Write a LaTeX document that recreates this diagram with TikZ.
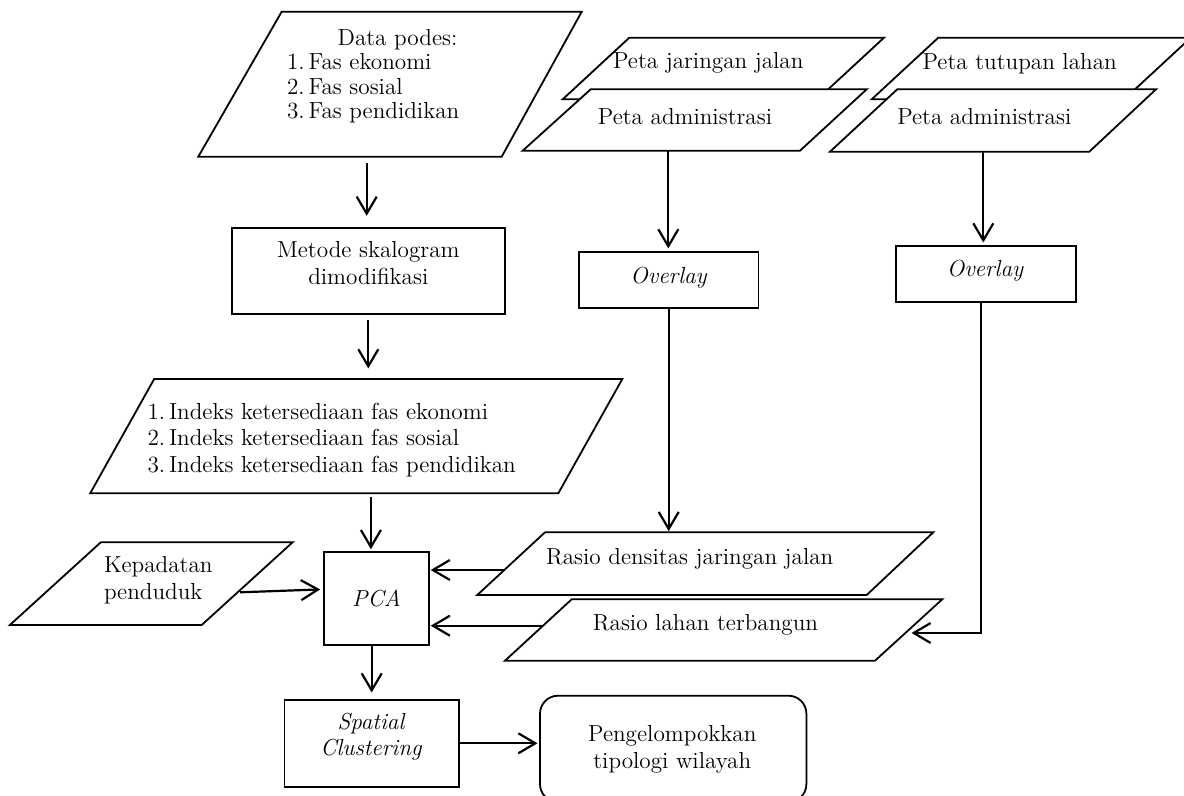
\documentclass[tikz,border=0pt]{standalone}
\usetikzlibrary{arrows.meta}
\begin{document}
\begin{tikzpicture}[x=0.5pt,y=-0.5pt,
  font=\fontsize{11.6}{13.3}\selectfont,
  shp/.style={draw, line width=0.9pt, fill=white, line join=miter},
  box/.style={draw, line width=0.9pt, inner sep=0pt, fill=white},
  txt/.style={inner sep=0pt, align=center},
  ltxt/.style={inner sep=0pt, align=left, anchor=west},
  conn/.style={line width=1.1pt, -{Straight Barb[length=8.5pt,width=10pt,line width=1.1pt]}}
]
\useasboundingbox (0,0) rectangle (1184,796);

% ---------- parallelograms (data) ----------
\draw[shp] (281.7,11.7) -- (581.7,11.7) -- (501.7,156.7) -- (198.3,156.7) -- cycle;
\node (dpT) [txt] at (397.5,40) {Data podes:};
\node (dpL) [ltxt, font=\fontsize{11.6}{12.3}\selectfont] at (286.7,88.3) {1.\,Fas ekonomi\\2.\,Fas sosial\\3.\,Fas pendidikan};
\coordinate (dpB) at (366.7,156.7);

\draw[shp] (629.3,37.7) -- (884,37.7) -- (817.4,99.3) -- (562.7,99.3) -- cycle;
\node (pj) [txt] at (708.3,63.3) {Peta jaringan jalan};
\draw[shp] (590.7,89.3) -- (866.7,89.3) -- (800,150.7) -- (522.7,150.7) -- cycle;
\node (pa1) [txt] at (685,116.7) {Peta administrasi};
\coordinate (f1B) at (668.3,150.7);

\draw[shp] (938.3,37.7) -- (1190.8,37.7) -- (1124.2,99.3) -- (871.7,99.3) -- cycle;
\node (pt) [txt] at (1019.7,63.3) {Peta tutupan lahan};
\draw[shp] (897.3,89.3) -- (1156,89.3) -- (1089.3,151.7) -- (830,151.7) -- cycle;
\node (pa2) [txt] at (984.3,116.7) {Peta administrasi};
\coordinate (f2B) at (983.3,151.7);

\draw[shp] (154.2,379) -- (622.3,379) -- (558.3,493.3) -- (90.2,493.3) -- cycle;
\node (ind) [ltxt] at (147.1,440) {1.\,Indeks ketersediaan fas ekonomi\\2.\,Indeks ketersediaan fas sosial\\3.\,Indeks ketersediaan fas pendidikan};
\coordinate (inT) at (369,379);
\coordinate (inB) at (370.9,493.3);

\draw[shp] (100.8,542.3) -- (292.6,542.3) -- (201.7,625) -- (9.9,625) -- cycle;
\node (kp) [ltxt] at (103.6,580) {Kepadatan\\penduduk};
\coordinate (kpR) at (240,592.3);
\coordinate (pcaK) at (324.2,589.3);

\draw[shp] (545,532.3) -- (933.3,532.3) -- (866.7,595) -- (477.3,595) -- cycle;
\node (rd) [txt] at (689.7,559) {Rasio densitas jaringan jalan};
\coordinate (rdL) at (504.3,570);
\coordinate (rdT) at (668.7,532.3);

\draw[shp] (571.7,599.3) -- (942.3,599.3) -- (875,660.7) -- (505,660.7) -- cycle;
\node (rl) [txt] at (705.5,625) {Rasio lahan terbangun};
\coordinate (rlL) at (543,625.7);
\coordinate (rlR) at (905.5,633);

% ---------- process boxes ----------
\node (skal) [box, minimum width=136.7pt, minimum height=43.3pt] at (368.3,271) {};
\node (skalT) [txt] at (368.3,263.3) {Metode skalogram\\dimodifikasi};

\node (ov1) [box, minimum width=89.7pt, minimum height=28pt] at (668.7,279.7) {};
\node (ov1T) [txt, font=\fontsize{11.6}{13.3}\selectfont\itshape] at (668.6,277.5) {Overlay};

\node (ov2) [box, minimum width=89.8pt, minimum height=28.2pt] at (985.9,274.2) {};
\node (ov2T) [txt, font=\fontsize{11.6}{13.3}\selectfont\itshape] at (985,271) {Overlay};
\coordinate (ov2B) at (981,302.3);

\node (pca) [box, minimum width=52.2pt, minimum height=46.7pt, font=\fontsize{11.6}{13.3}\selectfont\itshape] at (376.4,598.4) {PCA};

\node (sc) [box, minimum width=87.3pt, minimum height=43.3pt] at (371.7,743.3) {};
\node (scT) [txt, font=\fontsize{11.6}{13}\selectfont\itshape] at (371,737) {Spatial\\Clustering};

\node (peng) [box, rounded corners=9pt, minimum width=133.2pt, minimum height=53.2pt] at (673.2,748.9) {};
\node (pengT) [txt, font=\fontsize{11.6}{13.6}\selectfont] at (672.3,749.7) {Pengelompokkan\\tipologi wilayah};

% ---------- connectors ----------
\draw[conn, shorten <=3.2pt, shorten >=5.5pt] (dpB) -- (dpB |- skal.north);
\draw[conn, shorten <=2.5pt, shorten >=5.3pt] (skal.south) -- (skal.south |- inT);
\draw[conn, shorten <=2pt, shorten >=0.8pt] (inB) -- (inB |- pca.north);
\draw[conn, shorten >=2pt] (kpR) -- (pcaK);
\draw[conn, shorten >=0.6pt] (rdL) -- (rdL -| pca.east);
\draw[conn, shorten >=0.6pt] (rlL) -- (rlL -| pca.east);
\draw[conn, shorten >=3.3pt] (sc.north |- pca.south) -- (sc.north);
\draw[conn, shorten >=0.8pt] (sc.east) -- (sc.east -| peng.west);
\draw[conn, shorten >=1.2pt] (f1B) -- (f1B |- ov1.north);
\draw[conn, shorten >=1.3pt] (f2B) -- (f2B |- ov2.north);
\draw[conn, shorten >=0.6pt] (ov1.south) -- (rdT);
\draw[conn, shorten >=3pt] (ov2B) |- (rlR);
\end{tikzpicture}
\end{document}
